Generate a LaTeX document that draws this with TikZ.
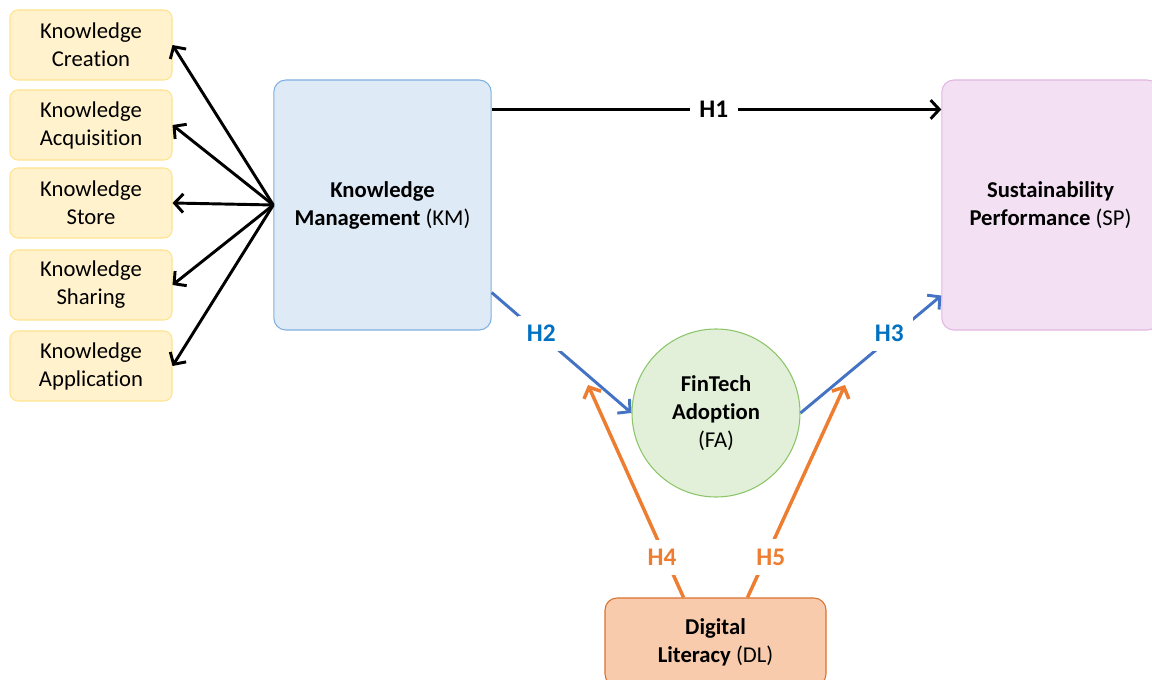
\documentclass[tikz,border=0pt]{standalone}
\usepackage{fontspec}
\setmainfont{Carlito}[RawFeature={-liga;-clig;-calt;-dlig}]
\usetikzlibrary{arrows.meta}
\definecolor{kbfill}{HTML}{FFF2CC}
\definecolor{kbdraw}{HTML}{FFE38F}
\definecolor{kmfill}{HTML}{DEEBF7}
\definecolor{kmdraw}{HTML}{7FB0E0}
\definecolor{spfill}{HTML}{F3E1F3}
\definecolor{spdraw}{HTML}{E2B6E2}
\definecolor{fafill}{HTML}{E2F0D9}
\definecolor{fadraw}{HTML}{8CC56A}
\definecolor{dlfill}{HTML}{F8CBAD}
\definecolor{dldraw}{HTML}{D9712E}
\definecolor{hblue}{HTML}{4472C4}
\definecolor{hbluetxt}{HTML}{0070C0}
\definecolor{horange}{HTML}{ED7D31}
\tikzset{
  txt/.style={font=\fontsize{17pt}{21pt}\selectfont, align=center},
  kbox/.style={txt, draw=kbdraw, fill=kbfill, line width=0.8pt, rounded corners=6pt,
    minimum width=121.5pt, minimum height=52.5pt, inner sep=0pt},
  bigbox/.style={txt, line width=0.8pt, rounded corners=9pt,
    minimum width=163pt, minimum height=187.5pt, inner sep=0pt},
  blk/.style={draw=black, line width=2.2pt, -{Straight Barb[length=6.5pt,width=14pt]}},
  blu/.style={draw=hblue, line width=2.2pt, -{Straight Barb[length=6.5pt,width=14pt]}},
  org/.style={draw=horange, line width=2.6pt, -{Straight Barb[length=6.5pt,width=14pt]}},
  hlab/.style={font=\fontsize{19pt}{22pt}\selectfont\bfseries, fill=white, inner sep=7pt},
}
\begin{document}
\begin{tikzpicture}[x=0.75pt, y=-0.75pt]
\useasboundingbox (0,0) rectangle (1152,680);
% left boxes
\node[kbox] (kc) at (91,45) {Knowledge\\Creation};
\node[kbox] (ka) at (91,125) {Knowledge\\Acquisition};
\node[kbox] (ks) at (91,203) {Knowledge\\Store};
\node[kbox] (ksh) at (91,285) {Knowledge\\Sharing};
\node[kbox] (kap) at (91,366) {Knowledge\\Application};
% main boxes
\node[bigbox, draw=kmdraw, fill=kmfill] (KM) at (382.5,205) {\textbf{Knowledge}\\\textbf{Management} (KM)};
\node[bigbox, draw=spdraw, fill=spfill] (SP) at (1050.5,205) {\textbf{Sustainability}\\\textbf{Performance} (SP)};
\node[circle, draw=fadraw, fill=fafill, line width=0.8pt, minimum size=126pt, inner sep=0pt, txt] (FA) at (716,413) {\textbf{FinTech}\\\textbf{Adoption}\\(FA)};
\node[txt, draw=dldraw, fill=dlfill, line width=0.8pt, rounded corners=9pt, minimum width=165.75pt, minimum height=66pt, inner sep=0pt] (DL) at (715.5,642) {\textbf{Digital}\\\textbf{Literacy} (DL)};
% KM to dimensions
\foreach \n in {kc,ka,ks,ksh,kap}{
  \draw[blk] (KM.west) -- (\n.east);
}
% H1
\draw[blk] ([yshift=-22.5pt]KM.north east) -- node[hlab, pos=0.494] (h1) {H1} ([yshift=-22.5pt]SP.north west);
% H2
\draw[blu] ([yshift=28.5pt]KM.south east) -- node[hlab, text=hbluetxt, pos=0.355, yshift=1.5pt] (h2) {H2} (FA.west);
% H3
\draw[blu] (FA.east) -- node[hlab, text=hbluetxt, pos=0.63, yshift=4pt] (h3) {H3} ([yshift=26.25pt]SP.south west);
% H4, H5
\coordinate (t4) at (588,385);
\coordinate (t5) at (845,385);
\draw[org] ([xshift=-24pt]DL.north) -- node[hlab, text=horange, pos=0.19, xshift=-2.5pt] (h4) {H4} (t4);
\draw[org] ([xshift=24pt]DL.north) -- node[hlab, text=horange, pos=0.19, xshift=3.5pt] (h5) {H5} (t5);
\end{tikzpicture}
\end{document}
